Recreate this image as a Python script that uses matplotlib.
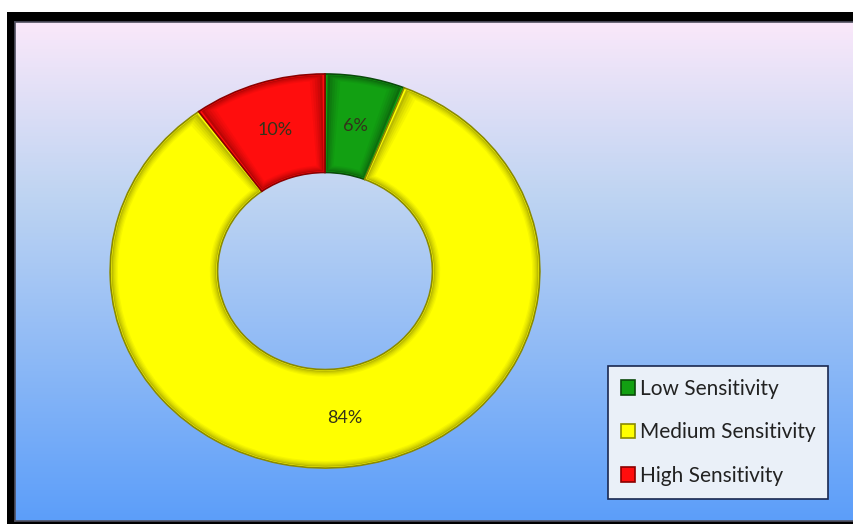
import matplotlib.pyplot as plt
import numpy as np
from matplotlib.patches import Wedge
from matplotlib.colors import to_rgb

labels = ['Low Sensitivity', 'Medium Sensitivity', 'High Sensitivity']
values = [6, 84, 10]
colors = ['#12a012', '#ffff00', '#ff0d0d']
edges = ['#0a4a0a', '#8a8a00', '#8a0000']

W, H = 854, 524
fig = plt.figure(figsize=(W / 100, H / 100), dpi=100)
fig.patch.set_facecolor('white')

# black frame
frame = fig.add_axes([7 / W, 0, 1 - 7 / W, (H - 12) / H])
frame.set_facecolor('black')
frame.set_xticks([])
frame.set_yticks([])
for s in frame.spines.values():
    s.set_visible(False)

# gradient panel
bg = fig.add_axes([15 / W, 3 / H, 1 - 15 / W, (H - 22 - 3) / H])
top = np.array([250, 232, 250]) / 255
mid = np.array([190, 212, 242]) / 255
bot = np.array([92, 158, 250]) / 255
t = np.linspace(0, 1, 256)[:, None]
grad = np.where(t < 0.35, top + (mid - top) * (t / 0.35), mid + (bot - mid) * ((t - 0.35) / 0.65))
bg.imshow(grad[:, None, :], aspect='auto', extent=[0, 1, 0, 1])
bg.set_xticks([])
bg.set_yticks([])
for s in bg.spines.values():
    s.set_color('#505060')
    s.set_linewidth(1.2)

# donut
cx, cy, rx, ry = 325, 271, 217, 199
ax = fig.add_axes([(cx - rx) / W, (H - cy - ry) / H, 2 * rx / W, 2 * ry / H])
ax.set_facecolor('none')
wedges, texts, autotexts = ax.pie(values, colors=colors, startangle=90, counterclock=False,
                                  radius=1, autopct='%d%%', pctdistance=0.75,
                                  wedgeprops=dict(width=0.5, linewidth=1.2),
                                  textprops=dict(fontsize=13, color='#33331a', family='Lato'))
for w, e in zip(wedges, edges):
    w.set_edgecolor(e)

# soft bevel: inset layers from edge colour to face colour
for w, c, e in zip(wedges, colors, edges):
    c1, c0 = np.array(to_rgb(c)), np.array(to_rgb(e))
    n = 6
    for i in range(1, n + 1):
        f = i / n
        d = 0.006 * i
        da = 0.7 * i
        col = c0 + (c1 - c0) * np.sqrt(f)
        ax.add_patch(Wedge(w.center, w.r - d, w.theta1 + da, w.theta2 - da,
                           width=w.width - 2 * d, facecolor=col, edgecolor='none',
                           zorder=w.get_zorder() + 0.01 * i))
for tx in autotexts:
    tx.set_zorder(5)

ax.set_aspect('auto')
ax.set_xlim(-1.01, 1.01)
ax.set_ylim(-1.01, 1.01)

leg = fig.legend(wedges, labels, loc='upper left', bbox_to_anchor=(608 / W, 1 - 366 / H),
                 frameon=True, fancybox=False, prop=dict(family='Lato', size=15),
                 handlelength=0.7, handleheight=0.7, handletextpad=0.2,
                 labelspacing=1.12, borderpad=0.62, borderaxespad=0)
leg.get_frame().set_facecolor('#eaf0f8')
leg.get_frame().set_edgecolor('#1a2850')
leg.get_frame().set_linewidth(1.2)
leg.get_frame().set_alpha(1)
for txt in leg.get_texts():
    txt.set_color('#222222')

fig.savefig('out.png', dpi=100)
